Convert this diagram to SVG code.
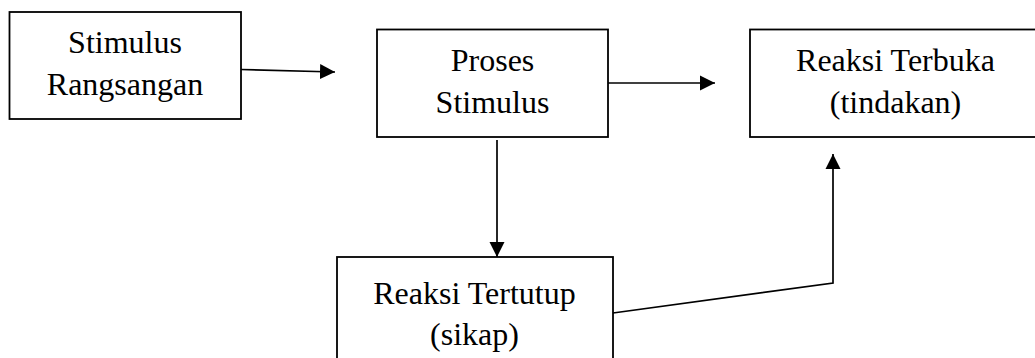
<svg xmlns="http://www.w3.org/2000/svg" width="1035" height="358" viewBox="0 0 1035 358">
<style>
.box{fill:#fff;stroke:#000;stroke-width:1.8}
.lbl{font-family:"Liberation Serif","Times New Roman",serif;font-size:32px;fill:#000;text-anchor:middle}
.con{fill:none;stroke:#000;stroke-width:1.7}
</style>
<defs>
<marker id="ah" viewBox="0 0 10 10" refX="10" refY="5" markerWidth="15" markerHeight="16" markerUnits="userSpaceOnUse" orient="auto">
<path d="M0,0 L10,5 L0,10 Z" fill="#000"/>
</marker>
</defs>
<rect width="1035" height="358" fill="#fff"/>
<g id="n1">
<rect class="box" x="9.5" y="12" width="231.5" height="107"/>
<text class="lbl" x="125" y="53">Stimulus</text>
<text class="lbl" x="125" y="95">Rangsangan</text>
</g>
<g id="n2">
<rect class="box" x="377" y="29.5" width="231" height="107.5"/>
<text class="lbl" x="492.5" y="71">Proses</text>
<text class="lbl" x="492.5" y="113">Stimulus</text>
</g>
<g id="n3">
<rect class="box" x="750" y="29.5" width="300" height="107.5"/>
<text class="lbl" x="895.5" y="71">Reaksi Terbuka</text>
<text class="lbl" x="895.5" y="113">(tindakan)</text>
</g>
<g id="n4">
<rect class="box" x="337" y="257" width="276" height="120"/>
<text class="lbl" x="474.5" y="304">Reaksi Tertutup</text>
<text class="lbl" x="474.5" y="345">(sikap)</text>
</g>
<g id="connectors">
<path class="con" d="M241,69.5 L335,72" marker-end="url(#ah)"/>
<path class="con" d="M608,83 L715,83" marker-end="url(#ah)"/>
<path class="con" d="M497,140 L497,257" marker-end="url(#ah)"/>
<path class="con" d="M613,313 L833,283 L833,154" marker-end="url(#ah)"/>
</g>
</svg>
